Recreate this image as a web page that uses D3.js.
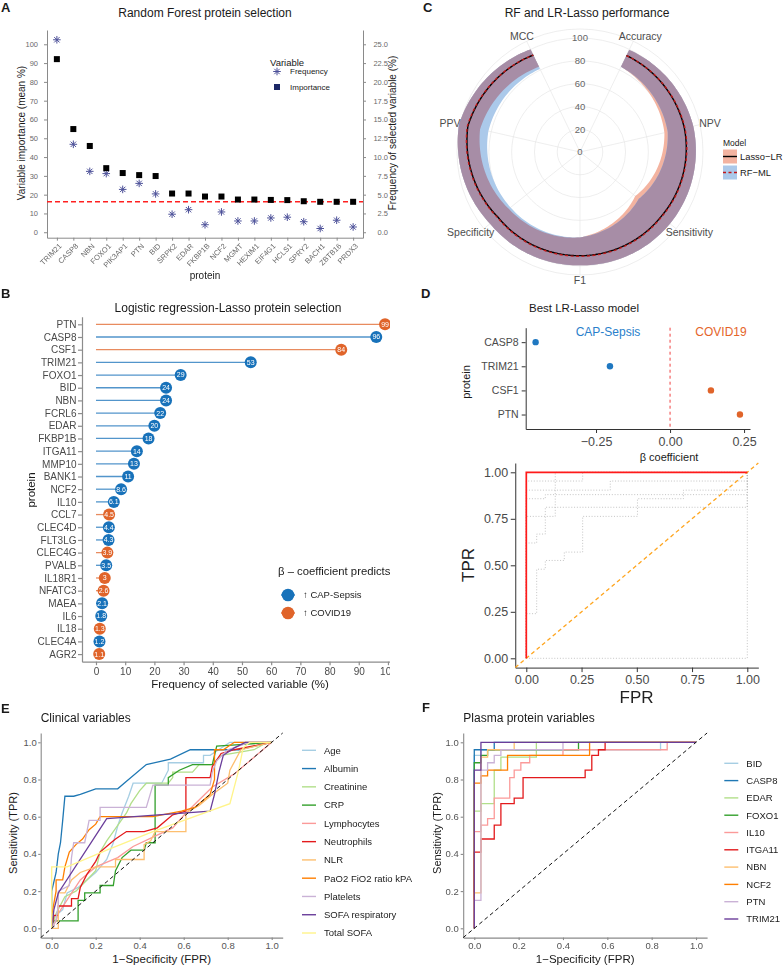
<!DOCTYPE html>
<html><head><meta charset="utf-8">
<script src="https://d3js.org/d3.v7.min.js"></script>
<style>
html,body{margin:0;padding:0;background:#fff;}
svg text{font-family:"Liberation Sans",Arial,Helvetica,sans-serif;}
.gray-aa{opacity:0.999;will-change:transform;}
</style></head>
<body>
<svg id="fig" width="784" height="966" xmlns="http://www.w3.org/2000/svg"></svg>
<script>
// ================= DATA =================
// Panel A – Random Forest
const rfProteins = ["TRIM21","CASP8","NBN","FOXO1","PIK3AP1","PTN","BID","SRPK2","EDAR","FKBP1B","NCF2","MGMT","HEXIM1","EIF4G1","HCLS1","SPRY2","BACH1","ZBTB16","PRDX3"];
const rfImportance = [92.1,54.9,45.9,34.1,31.5,30.4,29.9,20.6,20.6,19.0,19.0,17.4,17.4,17.2,17.1,16.5,16.2,16.2,16.2];
const rfFrequency = [25.6,11.7,8.1,7.8,5.7,6.5,5.1,2.4,3.0,1.0,2.7,1.5,1.5,1.9,2.0,1.4,0.5,1.6,0.7];
const rfThreshold = 16.2;
const aLeftTicks = [0,10,20,30,40,50,60,70,80,90,100];
const aRightTicks = [0,2.5,5,7.5,10,12.5,15,17.5,20,22.5,25];

// Panel B – LR-Lasso
const lassoProteins = ["PTN","CASP8","CSF1","TRIM21","FOXO1","BID","NBN","FCRL6","EDAR","FKBP1B","ITGA11","MMP10","BANK1","NCF2","IL10","CCL7","CLEC4D","FLT3LG","CLEC4G","PVALB","IL18R1","NFATC3","MAEA","IL6","IL18","CLEC4A","AGR2"];
const lassoFreq = [99,96,84,53,29,24,24,22,20,18,14,13,11,8.6,6.1,4.5,4.4,4.3,3.9,3.5,3,2.6,2.1,1.8,1.3,1.2,1.1];
const lassoDir = ["COVID19","CAP","COVID19","CAP","CAP","CAP","CAP","CAP","CAP","CAP","CAP","CAP","CAP","CAP","CAP","COVID19","CAP","CAP","COVID19","CAP","COVID19","COVID19","CAP","CAP","COVID19","CAP","COVID19"];
const bTicks = [0,10,20,30,40,50,60,70,80,90,100];

// Panel C – performance radar
const metrics = ["Accuracy","NPV","Sensitivity","F1","Specificity","PPV","MCC"];
const lassoMean = [94,94,91,91,92,101,94.5];
const lassoLow = [83,76,62,75,80,90,83];
const lassoHigh = [99.5,102,101,99.5,101,109,100];
const rfMean = [94,94.5,91.5,91.5,92.5,101.5,94.5];
const rfLow = [83,79,66,75,78,82.5,81];
const rfHigh = [99.5,102,101,99.5,101,109,100];
const cTicks = [0,20,40,60,80,100];

// Panel D – best model
const bestProteins = ["CASP8","TRIM21","CSF1","PTN"];
const bestBeta = [-0.454,-0.203,0.138,0.236];
const dTicks = [-0.25,0,0.25];
const rocBest = [[0,0],[0,1],[1,1]];
const rocCvA = [[0,0],[0,0.953],[0.255,0.953],[0.255,1],[1,1]];
const rocCvB = [[0,0],[0,0.904],[0.38,0.904],[0.38,0.953],[1,0.953],[1,1]];
const rocCvC = [[0,0],[0,0.62],[0.047,0.62],[0.047,0.668],[0.086,0.668],[0.086,0.763],[0.131,0.763],[0.131,1],[1,1]];
const rocCvD = [[0,0],[0,0.24],[0.047,0.24],[0.047,0.479],[0.086,0.479],[0.086,0.526],[0.172,0.526],[0.172,0.571],[0.255,0.571],[0.255,0.763],[0.503,0.763],[0.503,0.858],[0.711,0.858],[0.711,0.904],[1,0.904],[1,1]];
const rocCvE = [[0,0],[0,0.858],[0.086,0.858],[0.086,0.88],[1,0.88]];
const rocCvF = [[0,0],[0,0.763],[0.086,0.763],[0.086,0.812],[1,0.812],[1,1]];
const rocCvG = [[0,0],[1,0],[1,1]];
const rocTicks = [0,0.25,0.5,0.75,1];

// Panel E – clinical variables ROC
const clinNames = ["Age","Albumin","Creatinine","CRP","Lymphocytes","Neutrophils","NLR","PaO2 FiO2 ratio kPA","Platelets","SOFA respiratory","Total SOFA"];
const rocAge = [[0,0],[0.01,0.06],[0.05,0.1],[0.07,0.19],[0.12,0.22],[0.2,0.3],[0.25,0.37],[0.28,0.46],[0.3,0.55],[0.32,0.62],[0.35,0.71],[0.37,0.78],[0.5,0.78],[0.53,0.85],[0.53,0.89],[0.69,0.89],[0.69,0.93],[0.72,0.93],[0.81,1],[1,1]];
const rocAlbumin = [[0,0],[0,0.2],[0.02,0.3],[0.03,0.4],[0.04,0.46],[0.05,0.58],[0.06,0.71],[0.1,0.71],[0.13,0.72],[0.2,0.75],[0.3,0.75],[0.34,0.79],[0.43,0.88],[0.54,0.91],[0.63,0.96],[0.85,0.96],[1,1]];
const rocCreatinine = [[0,0],[0.02,0.08],[0.06,0.17],[0.11,0.2],[0.16,0.26],[0.2,0.31],[0.22,0.41],[0.25,0.47],[0.28,0.52],[0.34,0.62],[0.36,0.67],[0.4,0.74],[0.43,0.78],[0.53,0.78],[0.55,0.81],[0.55,0.84],[0.64,0.84],[0.67,0.88],[0.73,0.88],[0.77,0.93],[0.92,0.96],[0.98,1],[1,1]];
const rocCRP = [[0,0],[0.01,0.04],[0.12,0.04],[0.12,0.15],[0.15,0.15],[0.15,0.19],[0.22,0.19],[0.22,0.23],[0.28,0.23],[0.29,0.31],[0.32,0.38],[0.36,0.42],[0.42,0.42],[0.43,0.46],[0.47,0.46],[0.47,0.77],[0.53,0.77],[0.53,0.81],[0.58,0.85],[0.64,0.88],[0.73,0.88],[0.75,0.98],[0.89,0.99],[1,1]];
const rocLymphocytes = [[0,0],[0.02,0.04],[0.03,0.08],[0.08,0.17],[0.13,0.26],[0.2,0.33],[0.3,0.38],[0.37,0.44],[0.46,0.49],[0.55,0.54],[0.61,0.62],[0.67,0.69],[0.73,0.76],[0.83,0.83],[0.9,0.9],[0.96,0.96],[1,1]];
const rocNeutrophils = [[0,0],[0.01,0.07],[0.03,0.07],[0.03,0.12],[0.09,0.12],[0.09,0.16],[0.12,0.16],[0.13,0.22],[0.16,0.29],[0.2,0.36],[0.22,0.41],[0.26,0.45],[0.29,0.48],[0.34,0.52],[0.42,0.52],[0.48,0.54],[0.55,0.61],[0.61,0.63],[0.61,0.81],[0.72,0.81],[0.73,0.87],[0.77,0.94],[0.83,0.96],[1,1]];
const rocNLR = [[0,0],[0.03,0],[0.03,0.19],[0.06,0.19],[0.09,0.26],[0.13,0.3],[0.2,0.33],[0.29,0.33],[0.29,0.37],[0.42,0.37],[0.42,0.45],[0.45,0.47],[0.47,0.52],[0.61,0.52],[0.61,0.62],[0.67,0.66],[0.73,0.72],[0.8,0.78],[0.81,0.85],[0.86,0.96],[1,1]];
const rocPaO2 = [[0,0],[0,0.07],[0.02,0.2],[0.02,0.26],[0.05,0.26],[0.06,0.33],[0.08,0.41],[0.11,0.45],[0.14,0.48],[0.17,0.53],[0.2,0.56],[0.22,0.6],[0.46,0.6],[0.59,0.63],[0.65,0.65],[0.72,0.72],[0.74,0.8],[0.74,0.96],[0.78,0.96],[0.83,1],[1,1]];
const rocPlatelets = [[0,0],[0.02,0.05],[0.03,0.12],[0.03,0.2],[0.08,0.23],[0.09,0.38],[0.1,0.46],[0.15,0.46],[0.17,0.58],[0.22,0.58],[0.22,0.65],[0.43,0.65],[0.46,0.77],[0.72,0.77],[0.73,0.84],[0.75,0.9],[0.8,0.96],[0.9,1],[1,1]];
const rocSofaResp = [[0,0],[0.01,0.1],[0.03,0.19],[0.25,0.59],[0.72,0.63],[0.74,0.72],[0.76,0.84],[0.78,0.93],[0.83,0.97],[0.88,1],[1,1]];
const rocTotalSofa = [[0,0],[0,0.33],[0.07,0.33],[0.25,0.42],[0.46,0.52],[0.81,0.67],[0.85,0.85],[0.87,0.97],[0.9,1],[1,1]];
const clinRocs = [rocAge,rocAlbumin,rocCreatinine,rocCRP,rocLymphocytes,rocNeutrophils,rocNLR,rocPaO2,rocPlatelets,rocSofaResp,rocTotalSofa];

// Panel F – plasma protein ROC
const protNames = ["BID","CASP8","EDAR","FOXO1","IL10","ITGA11","NBN","NCF2","PTN","TRIM21"];
const rocBID = [[0,0],[0,0.93],[0.03,0.93],[0.03,0.96],[0.84,0.96],[0.84,1],[1,1]];
const rocCASP8 = [[0,0],[0,0.96],[0.09,0.96],[0.09,1],[1,1]];
const rocEDAR = [[0,0],[0,0.63],[0.03,0.63],[0.03,0.67],[0.09,0.67],[0.09,0.85],[0.12,0.85],[0.12,0.92],[0.28,0.92],[0.28,1],[1,1]];
const rocFOXO1 = [[0,0],[0,0.89],[0.03,0.89],[0.03,0.93],[0.06,0.93],[0.06,0.96],[0.47,0.96],[0.47,1],[1,1]];
const rocIL10 = [[0,0],[0,0.52],[0.03,0.52],[0.03,0.555],[0.06,0.555],[0.06,0.59],[0.09,0.59],[0.09,0.7],[0.16,0.7],[0.16,0.81],[0.18,0.81],[0.18,0.85],[0.21,0.85],[0.21,0.89],[0.25,0.89],[0.25,0.93],[0.4,0.93],[0.4,0.96],[0.87,0.96],[0.87,1],[1,1]];
const rocITGA11 = [[0,0],[0,0.41],[0.03,0.41],[0.03,0.48],[0.09,0.48],[0.09,0.555],[0.12,0.555],[0.12,0.67],[0.18,0.67],[0.18,0.7],[0.22,0.7],[0.22,0.81],[0.5,0.81],[0.5,0.85],[0.53,0.85],[0.53,0.93],[0.56,0.93],[0.56,0.96],[0.59,0.96],[0.59,1],[1,1]];
const rocNBN = [[0,0],[0,0.19],[0.03,0.19],[0.03,0.92],[0.06,0.92],[0.06,0.96],[0.18,0.96],[0.18,1],[1,1]];
const rocNCF2 = [[0,0],[0,0.78],[0.03,0.78],[0.03,0.82],[0.06,0.82],[0.06,0.85],[0.15,0.85],[0.15,0.93],[0.52,0.93],[0.52,1],[1,1]];
const rocPTN = [[0,0],[0,0.15],[0.03,0.15],[0.03,0.85],[0.06,0.85],[0.06,0.89],[0.09,0.89],[0.09,0.93],[0.12,0.93],[0.12,0.96],[0.4,0.96],[0.4,1],[1,1]];
const rocTRIM21 = [[0,0],[0,0.85],[0.03,0.85],[0.03,1],[1,1]];
const protRocs = [rocBID,rocCASP8,rocEDAR,rocFOXO1,rocIL10,rocITGA11,rocNBN,rocNCF2,rocPTN,rocTRIM21];
const eTicks = [0,0.2,0.4,0.6,0.8,1.0];

const paired = ["#A6CEE3","#1F78B4","#B2DF8A","#33A02C","#FB9A99","#E31A1C","#FDBF6F","#FF7F00","#CAB2D6","#6A3D9A","#FFF48A"];

// ================= HELPERS =================
const svg = d3.select("#fig");
svg.append("rect").attr("width",784).attr("height",966).attr("fill","#fff");

function txt(g,x,y,s,o={}){
  const t=g.append("text").attr("x",x).attr("y",y).text(s)
    .style("font-size",(o.fs||10)+"px").attr("fill",o.fill||"#1a1a1a")
    .attr("text-anchor",o.anchor||"start");
  if(o.bold) t.style("font-weight","bold");
  if(o.rot) t.attr("transform",`rotate(${o.rot},${x},${y})`);
  if(o.dy) t.attr("dy",o.dy);
  return t;
}
function styleAxis(g,o){
  g.attr("font-family",null).attr("font-size",null);
  g.select(".domain").attr("stroke",o.line).attr("stroke-width",o.lw||1);
  g.selectAll(".tick line").attr("stroke",o.line).attr("stroke-width",o.lw||1);
  g.selectAll(".tick text").attr("fill",o.text).style("font-size",o.fs+"px");
  return g;
}
function starPath(cx,cy,r){
  let d="";
  for(let k=0;k<4;k++){const a=k*Math.PI/4;const dx=r*Math.cos(a),dy=r*Math.sin(a);
    d+=`M${cx-dx},${cy-dy}L${cx+dx},${cy+dy}`;}
  return d;
}

// ================= PANEL A =================
{
const g=svg.append("g");
txt(g,1,12,"A",{fs:13,bold:true});
txt(g,205,17,"Random Forest protein selection",{fs:12,anchor:"middle"});
const x=d3.scalePoint().domain(rfProteins).range([47,363]).padding(0.6);
const y=d3.scaleLinear().domain([-2.9,107.6]).range([237.7,30]);
const y2=d3.scaleLinear().domain([-2.9/4,107.6/4]).range([237.7,30]);
const ax={line:"#8a8a8a",text:"#6a6a6a",fs:7.5};
styleAxis(g.append("g").attr("transform","translate(47,0)").call(d3.axisLeft(y).tickValues(aLeftTicks).tickSize(3).tickPadding(6).tickSizeOuter(0)),ax);
const ra=styleAxis(g.append("g").attr("transform","translate(363,0)").call(d3.axisRight(y2).tickValues(aRightTicks).tickFormat(d3.format(".1f")).tickSize(3).tickSizeOuter(0)),ax);
ra.selectAll(".tick text").attr("text-anchor","end").attr("x",25);
const bx=styleAxis(g.append("g").attr("class","gray-aa").attr("transform","translate(0,237.7)").call(d3.axisBottom(x).tickSize(3).tickSizeOuter(0)),ax);
bx.selectAll(".tick text").attr("text-anchor","end").attr("y",0).attr("dy","0.35em").attr("transform","translate(3,7) rotate(-45)");
txt(g,205,279,"protein",{fs:10,anchor:"middle"});
txt(g,25,133,"Variable importance (mean %)",{fs:10,anchor:"middle",rot:-90});
txt(g,396,133,"Frequency of selected variable (%)",{fs:10,anchor:"middle",rot:-90});
g.append("line").attr("x1",47).attr("x2",363).attr("y1",y(rfThreshold)).attr("y2",y(rfThreshold))
  .attr("stroke","#ff2020").attr("stroke-width",1.4).attr("stroke-dasharray","5,3");
g.selectAll("path.star").data(rfProteins).join("path").attr("class","star")
  .attr("d",(d,i)=>starPath(x(d),y2(rfFrequency[i]),3.8)).attr("stroke","#4d5199").attr("stroke-width",1).attr("fill","none");
g.selectAll("rect.sq").data(rfProteins).join("rect").attr("class","sq")
  .attr("x",(d)=>x(d)-3).attr("y",(d,i)=>y(rfImportance[i])-3).attr("width",6).attr("height",6).attr("fill","#000");
// legend
txt(g,270,66,"Variable",{fs:9.5});
g.append("path").attr("d",starPath(277,71.5,3.8)).attr("stroke","#4d5199").attr("stroke-width",1).attr("fill","none");
txt(g,290,71.5,"Frequency",{fs:8,dy:"0.35em"});
g.append("rect").attr("x",274).attr("y",84).attr("width",6).attr("height",6).attr("fill","#1c2766");
txt(g,290,87,"Importance",{fs:8,dy:"0.35em"});
}

// ================= PANEL B =================
{
svg.append("clipPath").attr("id","clipB").append("rect").attr("x",0).attr("y",280).attr("width",390).attr("height",420);
const g=svg.append("g").attr("clip-path","url(#clipB)");
txt(g,1,298,"B",{fs:13,bold:true});
txt(g,228,312,"Logistic regression-Lasso protein selection",{fs:12,anchor:"middle"});
const y=d3.scalePoint().domain(lassoProteins).range([316.7,661.7]).padding(0.6);
const x=d3.scaleLinear().domain([-4.79,100.7]).range([82,390]);
const ax={line:"#8c8c8c",text:"#4a4a4a",fs:10,lw:1.2};
styleAxis(g.append("g").attr("transform","translate(82,0)").call(d3.axisLeft(y).tickSize(4).tickPadding(1.5).tickSizeOuter(0)),ax);
styleAxis(g.append("g").attr("transform","translate(0,661.7)").call(d3.axisBottom(x).tickValues(bTicks).tickSize(3.5).tickPadding(3).tickSizeOuter(0)),ax);
const col=d=>d==="CAP"?"#1872BA":"#E0642A";
g.selectAll("line.seg").data(lassoProteins).join("line").attr("class","seg")
  .attr("x1",x(0)).attr("x2",(d,i)=>x(lassoFreq[i])).attr("y1",d=>y(d)).attr("y2",d=>y(d))
  .attr("stroke",(d,i)=>col(lassoDir[i])).attr("stroke-opacity",0.75).attr("stroke-width",1.3);
g.selectAll("circle.pt").data(lassoProteins).join("circle").attr("class","pt")
  .attr("cx",(d,i)=>x(lassoFreq[i])).attr("cy",d=>y(d)).attr("r",6).attr("fill",(d,i)=>col(lassoDir[i]));
g.selectAll("text.lab").data(lassoProteins).join("text").attr("class","lab")
  .attr("x",(d,i)=>x(lassoFreq[i])).attr("y",d=>y(d)).attr("dy","0.35em").attr("text-anchor","middle")
  .style("font-size","7px").attr("fill","#fff").text((d,i)=>String(lassoFreq[i]));
txt(g,240,688,"Frequency of selected variable (%)",{fs:11.5,anchor:"middle"});
txt(g,35,490,"protein",{fs:11.5,anchor:"middle",rot:-90});
// legend
txt(g,278,575,"β – coefficient predicts",{fs:11.3});
[["CAP","↑ CAP-Sepsis",595],["COVID19","↑ COVID19",613]].forEach(([k,l,yy])=>{
  g.append("line").attr("x1",281).attr("x2",295).attr("y1",yy).attr("y2",yy).attr("stroke",col(k)).attr("stroke-width",1.3);
  g.append("circle").attr("cx",288).attr("cy",yy).attr("r",6.3).attr("fill",col(k));
  txt(g,303,yy,l,{fs:9.5,dy:"0.35em"});
});
}

// ================= PANEL C =================
{
const g=svg.append("g");
txt(g,423,12,"C",{fs:13,bold:true});
txt(g,587,17,"RF and LR-Lasso performance",{fs:12,anchor:"middle"});
const cx=580, cy=152;
const r=d3.scaleLinear().domain([0,108]).range([0,123]);
const n=metrics.length;
const ang=i=>(i+0.5)*2*Math.PI/n;
const pxy=(a,v)=>[cx+r(v)*Math.sin(a), cy-r(v)*Math.cos(a)];
// grid
[20,40,60,80,100,108].forEach(v=>g.append("circle").attr("cx",cx).attr("cy",cy).attr("r",r(v)).attr("fill","none").attr("stroke","#e6e6e6").attr("stroke-width",0.7));
metrics.forEach((m,i)=>{const p=pxy(ang(i),108);g.append("line").attr("x1",cx).attr("y1",cy).attr("x2",p[0]).attr("y2",p[1]).attr("stroke","#e6e6e6").attr("stroke-width",0.7);});
// interpolate in polar data space
const steps=30;
function samp(vals){const out=[];for(let i=0;i<n-1;i++){for(let s=0;s<steps;s++){const t=s/steps;out.push([ang(i)+t*(ang(i+1)-ang(i)), vals[i]+t*(vals[i+1]-vals[i])]);}}out.push([ang(n-1),vals[n-1]]);return out;}
const line=d3.line();
function band(lo,hi){const L=samp(lo),H=samp(hi);const pts=H.map(d=>pxy(d[0],d[1])).concat(L.reverse().map(d=>pxy(d[0],d[1])));return line(pts)+"Z";}
const lL=samp(lassoLow), rL=samp(rfLow), lH=samp(lassoHigh), rH=samp(rfHigh);
const ovLow=lL.map((d,i)=>[d[0],Math.max(d[1],rL[i][1])]);
const ovHigh=lH.map((d,i)=>[d[0],Math.min(d[1],rH[i][1])]);
g.append("path").attr("d",band(lassoLow,lassoHigh)).attr("fill","#F3B3A0");
g.append("path").attr("d",band(rfLow,rfHigh)).attr("fill","#ABC9EA");
const ovPts=ovHigh.map(d=>pxy(d[0],d[1])).concat(ovLow.slice().reverse().map(d=>pxy(d[0],d[1])));
g.append("path").attr("d",line(ovPts)+"Z").attr("fill","#A78DA6");
g.append("path").attr("d",line(samp(lassoMean).map(d=>pxy(d[0],d[1])))).attr("fill","none").attr("stroke","#000").attr("stroke-width",1.4);
g.append("path").attr("d",line(samp(rfMean).map(d=>pxy(d[0],d[1])))).attr("fill","none").attr("stroke","#c21818").attr("stroke-width",1.4).attr("stroke-dasharray","3,2.5");
// radial labels
cTicks.forEach(v=>txt(g,cx,cy-r(v),String(v),{fs:9.5,anchor:"middle",fill:"#666",dy:"0.35em"}));
// metric labels
metrics.forEach((m,i)=>{const a=ang(i);const t=txt(g,0,0,m,{fs:10.5,anchor:"middle",fill:"#4d4d4d"});
  const w=t.node().getComputedTextLength();const R=128;
  t.attr("x",cx+R*Math.sin(a)+Math.sin(a)*w*0.25).attr("y",cy-R*Math.cos(a)+3.7);});
// legend
txt(g,723,146,"Model",{fs:8.5});
g.append("rect").attr("x",723).attr("y",149.5).attr("width",14).attr("height",14).attr("fill","#F3B3A0");
g.append("line").attr("x1",723).attr("x2",737).attr("y1",156.5).attr("y2",156.5).attr("stroke","#000").attr("stroke-width",1.4);
txt(g,740,156.5,"Lasso−LR",{fs:9.4,dy:"0.35em"});
g.append("rect").attr("x",723).attr("y",165.5).attr("width",14).attr("height",14).attr("fill","#ABC9EA");
g.append("line").attr("x1",723).attr("x2",737).attr("y1",172.5).attr("y2",172.5).attr("stroke","#c21818").attr("stroke-width",1.4).attr("stroke-dasharray","3,2.5");
txt(g,740,172.5,"RF−ML",{fs:9.4,dy:"0.35em"});
}

// ================= PANEL D =================
{
const g=svg.append("g");
txt(g,421,298,"D",{fs:13,bold:true});
txt(g,584,312,"Best LR-Lasso model",{fs:11.5,anchor:"middle"});
const y=d3.scalePoint().domain(bestProteins).range([327.7,429]).padding(0.6);
const x=d3.scaleLinear().domain([-0.4875,0.27]).range([525.7,750]);
const ax={line:"#333",text:"#4a4a4a",fs:10.5};
styleAxis(g.append("g").attr("transform","translate(525.7,0)").call(d3.axisLeft(y).tickSize(4).tickPadding(3).tickSizeOuter(0)),ax);
styleAxis(g.append("g").attr("transform","translate(0,429)").call(d3.axisBottom(x).tickValues(dTicks).tickFormat(d3.format(".2f")).tickSize(4).tickPadding(4).tickSizeOuter(0)),{line:"#333",text:"#4a4a4a",fs:12.5});
g.append("line").attr("x1",x(0)).attr("x2",x(0)).attr("y1",327.7).attr("y2",429).attr("stroke","#f04040").attr("stroke-width",1).attr("stroke-dasharray","3,3");
g.selectAll("circle.b").data(bestProteins).join("circle").attr("class","b")
  .attr("cx",(d,i)=>x(bestBeta[i])).attr("cy",d=>y(d)).attr("r",3.2)
  .attr("fill",(d,i)=>bestBeta[i]<0?"#1f78c1":"#e0642a");
txt(g,608,336,"CAP-Sepsis",{fs:12,anchor:"middle",fill:"#2a7fcb"});
txt(g,721,336,"COVID19",{fs:12,anchor:"middle",fill:"#e5652a"});
txt(g,669,461,"β coefficient",{fs:11,anchor:"middle"});
txt(g,470,382,"protein",{fs:11,anchor:"middle",rot:-90});

// ROC
const rx=d3.scaleLinear().domain([-0.05,1.05]).range([515.25,758.35]);
const ry=d3.scaleLinear().domain([-0.05,1.05]).range([667.6,463]);
const ax2={line:"#333",text:"#4a4a4a",fs:12.5};
styleAxis(g.append("g").attr("transform","translate(515.25,0)").call(d3.axisLeft(ry).tickValues(rocTicks).tickFormat(d3.format(".2f")).tickSize(4.5).tickPadding(2.5).tickSizeOuter(0)),ax2);
styleAxis(g.append("g").attr("transform","translate(0,667.6)").call(d3.axisBottom(rx).tickValues(rocTicks).tickFormat(d3.format(".2f")).tickSize(4.5).tickPadding(3.5).tickSizeOuter(0)),ax2);
const ln=d3.line().x(d=>rx(d[0])).y(d=>ry(d[1]));
[rocCvA,rocCvB,rocCvC,rocCvD,rocCvE,rocCvF,rocCvG].forEach(c=>g.append("path").attr("d",ln(c)).attr("fill","none").attr("stroke","#b5b5b5").attr("stroke-width",0.8).attr("stroke-dasharray","1,1.8"));
g.append("line").attr("x1",rx(-0.05)).attr("y1",ry(-0.05)).attr("x2",rx(1.05)).attr("y2",ry(1.05)).attr("stroke","#FFA51E").attr("stroke-width",1.3).attr("stroke-dasharray","4,3");
g.append("path").attr("d",ln(rocBest)).attr("fill","none").attr("stroke","#ff1a1a").attr("stroke-width",1.7);
txt(g,474,565,"TPR",{fs:17,anchor:"middle",rot:-90,fill:"#222"});
txt(g,636.5,703,"FPR",{fs:17,anchor:"middle",fill:"#222"});
}

// ================= PANELS E & F =================
function rocPanel(o){
  const g=svg.append("g");
  txt(g,o.letterX,o.letterY,o.letter,{fs:13,bold:true});
  txt(g,o.titleX,722,o.title,{fs:12});
  const x=d3.scaleLinear().domain([-0.05,1.05]).range([o.x0,o.x1]);
  const y=d3.scaleLinear().domain([-0.05,1.05]).range([937.6,733]);
  const ax={line:"#8a8a8a",text:"#555",fs:9.5,lw:1.1};
  styleAxis(g.append("g").attr("transform",`translate(${o.x0},0)`).call(d3.axisLeft(y).tickValues(eTicks).tickFormat(d3.format(".1f")).tickSize(2.5).tickPadding(o.yPad).tickSizeOuter(0)),ax);
  styleAxis(g.append("g").attr("transform","translate(0,937.6)").call(d3.axisBottom(x).tickValues(eTicks).tickFormat(d3.format(".1f")).tickSize(2.5).tickPadding(2.5).tickSizeOuter(0)),ax);
  const ln=d3.line().x(d=>x(d[0])).y(d=>y(d[1]));
  o.rocs.forEach((c,i)=>g.append("path").attr("d",ln(c)).attr("fill","none").attr("stroke",paired[i]).attr("stroke-width",1.3));
  g.append("line").attr("x1",x(-0.05)).attr("y1",y(-0.05)).attr("x2",x(1.05)).attr("y2",y(1.05)).attr("stroke","#111").attr("stroke-width",1).attr("stroke-dasharray","4,3");
  txt(g,x(0.5),963,"1−Specificity (FPR)",{fs:11.5,anchor:"middle"});
  txt(g,o.yTitleX,833,"Sensitivity (TPR)",{fs:11,anchor:"middle",rot:-90});
  o.names.forEach((nm,i)=>{const yy=o.legY0+i*o.legStep;
    g.append("line").attr("x1",o.legX).attr("x2",o.legX+14).attr("y1",yy).attr("y2",yy).attr("stroke",paired[i]).attr("stroke-width",1.4);
    txt(g,o.legX+22,yy,nm,{fs:9.5,dy:"0.35em"});});
}
rocPanel({letter:"E",letterX:1,letterY:713,title:"Clinical variables",titleX:40.7,x0:40.7,x1:282.7,yPad:1.5,yTitleX:17,
  rocs:clinRocs,names:clinNames,legX:302,legY0:750.3,legStep:18.27});
rocPanel({letter:"F",letterX:422,letterY:712,title:"Plasma protein variables",titleX:463.3,x0:463.2,x1:707.1,yPad:2,yTitleX:440.5,
  rocs:protRocs,names:protNames,legX:724.3,legY0:763.3,legStep:17.3});
</script>
</body></html>
